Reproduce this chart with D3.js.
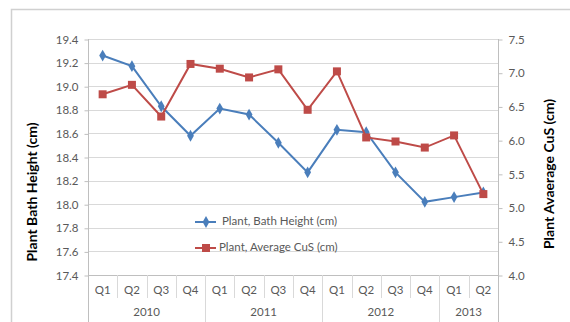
<!DOCTYPE html>
<html>
<head>
<meta charset="utf-8">
<script src="https://cdn.jsdelivr.net/npm/d3@7/dist/d3.min.js"></script>
<style>
  html, body { margin: 0; padding: 0; background: #fff; }
  svg { display: block; }
  text { font-family: Lato, "Open Sans", "Liberation Sans", sans-serif; }
</style>
</head>
<body>
<svg id="chart" width="570" height="322"></svg>
<script>
// Quarterly categories with their year groups
const quarters = ["Q1","Q2","Q3","Q4","Q1","Q2","Q3","Q4","Q1","Q2","Q3","Q4","Q1","Q2"];
const years = ["2010","2011","2012","2013"];
const yearSpans = [4, 4, 4, 2];

// Series values
const bathHeight = [19.26, 19.17, 18.83, 18.58, 18.81, 18.76, 18.52, 18.27, 18.63, 18.61, 18.27, 18.02, 18.06, 18.10];
const averageCuS = [6.68, 6.82, 6.35, 7.13, 7.06, 6.93, 7.05, 6.45, 7.02, 6.04, 5.98, 5.89, 6.07, 5.20];

// Axis ticks
const leftTicks = [17.4, 17.6, 17.8, 18.0, 18.2, 18.4, 18.6, 18.8, 19.0, 19.2, 19.4];
const rightTicks = [4.0, 4.5, 5.0, 5.5, 6.0, 6.5, 7.0, 7.5];

const seriesNames = ["Plant, Bath Height (cm)", "Plant, Average CuS (cm)"];

const blue = "#4a7ebb", red = "#be4b48";
const gridColor = "#d9d9d9", axisColor = "#bfbfbf", textColor = "#595959";

const svg = d3.select("#chart");
const L = 88, R = 498, T = 39, B = 275;

// Outer chart frame
svg.append("rect")
  .attr("x", 11.5).attr("y", 9.5).attr("width", 600).attr("height", 400)
  .attr("fill", "none").attr("stroke", "#d0d0d0").attr("stroke-width", 1.5);

const x = d3.scaleBand().domain(d3.range(quarters.length)).range([L, R]).padding(0);
const yL = d3.scaleLinear().domain([17.4, 19.4]).range([B, T]);
const yR = d3.scaleLinear().domain([4.0, 7.5]).range([B, T]);

// Horizontal gridlines
svg.append("g").selectAll("line").data(leftTicks).join("line")
  .attr("x1", L).attr("x2", R)
  .attr("y1", d => Math.round(yL(d)) + 0.5).attr("y2", d => Math.round(yL(d)) + 0.5)
  .attr("stroke", gridColor).attr("stroke-width", 1);

// Left axis
const leftAxis = svg.append("g").attr("transform", `translate(${L + 0.5},0.5)`)
  .call(d3.axisLeft(yL).tickValues(leftTicks).tickFormat(d3.format(".1f")).tickSize(4).tickPadding(6));
leftAxis.select(".domain").remove();
leftAxis.selectAll(".tick line").attr("stroke", axisColor);
leftAxis.selectAll(".tick text").attr("fill", textColor).attr("font-size", 11.5)
  .attr("font-family", "Lato, 'Open Sans', sans-serif");

// Right axis
const rightAxis = svg.append("g").attr("transform", `translate(${R + 0.5},0.5)`)
  .call(d3.axisRight(yR).tickValues(rightTicks).tickFormat(d3.format(".1f")).tickSize(4).tickPadding(6));
rightAxis.select(".domain").remove();
rightAxis.selectAll(".tick line").attr("stroke", axisColor);
rightAxis.selectAll(".tick text").attr("fill", textColor).attr("font-size", 11.5)
  .attr("font-family", "Lato, 'Open Sans', sans-serif");

// Vertical axis lines running down through the category band
svg.append("line").attr("x1", L + 0.5).attr("x2", L + 0.5).attr("y1", T).attr("y2", 322)
  .attr("stroke", axisColor);
svg.append("line").attr("x1", R + 0.5).attr("x2", R + 0.5).attr("y1", T).attr("y2", 322)
  .attr("stroke", axisColor);
// Bottom category axis line
svg.append("line").attr("x1", L).attr("x2", R).attr("y1", B + 0.5).attr("y2", B + 0.5)
  .attr("stroke", axisColor);

// Quarter separators (short) and year separators (long)
const yearStarts = [];
let acc = 0;
yearSpans.forEach(s => { yearStarts.push(acc); acc += s; });
const qSeps = d3.range(1, quarters.length).filter(i => !yearStarts.includes(i));
svg.append("g").selectAll("line").data(qSeps).join("line")
  .attr("x1", i => Math.round(x(i)) + 0.5).attr("x2", i => Math.round(x(i)) + 0.5)
  .attr("y1", B).attr("y2", B + 23)
  .attr("stroke", gridColor);
svg.append("g").selectAll("line").data(yearStarts.slice(1)).join("line")
  .attr("x1", i => Math.round(x(i)) + 0.5).attr("x2", i => Math.round(x(i)) + 0.5)
  .attr("y1", B).attr("y2", 322)
  .attr("stroke", gridColor);

// Quarter labels
svg.append("g").selectAll("text").data(quarters).join("text")
  .attr("x", (d, i) => x(i) + x.bandwidth() / 2).attr("y", 291)
  .attr("text-anchor", "middle").attr("dominant-baseline", "middle")
  .attr("fill", textColor).attr("font-size", 11.5).text(d => d);

// Year labels
svg.append("g").selectAll("text").data(years).join("text")
  .attr("x", (d, i) => (x(yearStarts[i]) + x(yearStarts[i] + yearSpans[i] - 1) + x.bandwidth()) / 2)
  .attr("y", 313)
  .attr("text-anchor", "middle").attr("dominant-baseline", "middle")
  .attr("fill", textColor).attr("font-size", 11.5).text(d => d);

// Axis titles
svg.append("text").attr("transform", "translate(37,192) rotate(-90)")
  .attr("text-anchor", "middle").attr("font-size", 14).attr("font-weight", "bold")
  .attr("fill", "#000").text("Plant Bath Height (cm)");
svg.append("text").attr("transform", "translate(554,174) rotate(-90)")
  .attr("text-anchor", "middle").attr("font-size", 14).attr("font-weight", "bold")
  .attr("fill", "#000").text("Plant Avaerage CuS (cm)");

const cx = i => x(i) + x.bandwidth() / 2;
const diamond = d3.symbol().type(d3.symbolDiamond).size(40);

// Bath height series
svg.append("path").datum(bathHeight)
  .attr("d", d3.line().x((d, i) => cx(i)).y(d => yL(d)))
  .attr("fill", "none").attr("stroke", blue).attr("stroke-width", 2);
svg.append("g").selectAll("path").data(bathHeight).join("path")
  .attr("d", diamond).attr("transform", (d, i) => `translate(${cx(i)},${yL(d)})`)
  .attr("fill", blue);

// Average CuS series
svg.append("path").datum(averageCuS)
  .attr("d", d3.line().x((d, i) => cx(i)).y(d => yR(d)))
  .attr("fill", "none").attr("stroke", red).attr("stroke-width", 2);
svg.append("g").selectAll("rect").data(averageCuS).join("rect")
  .attr("x", (d, i) => cx(i) - 4).attr("y", d => yR(d) - 4)
  .attr("width", 8).attr("height", 8).attr("fill", red);

// Legend
const legend = svg.append("g");
const lg = [{ y: 222, c: blue, t: seriesNames[0], m: "d", tx: 222 },
            { y: 248, c: red, t: seriesNames[1], m: "s", tx: 219 }];
lg.forEach(e => {
  legend.append("line").attr("x1", 195).attr("x2", 216).attr("y1", e.y).attr("y2", e.y)
    .attr("stroke", e.c).attr("stroke-width", 2);
  if (e.m === "d") {
    legend.append("path").attr("d", diamond).attr("transform", `translate(206,${e.y})`).attr("fill", e.c);
  } else {
    legend.append("rect").attr("x", 202).attr("y", e.y - 4).attr("width", 8).attr("height", 8).attr("fill", e.c);
  }
  legend.append("text").attr("x", e.tx).attr("y", e.y).attr("dominant-baseline", "middle")
    .attr("fill", textColor).attr("font-size", 11.5).text(e.t);
});
</script>
</body>
</html>
